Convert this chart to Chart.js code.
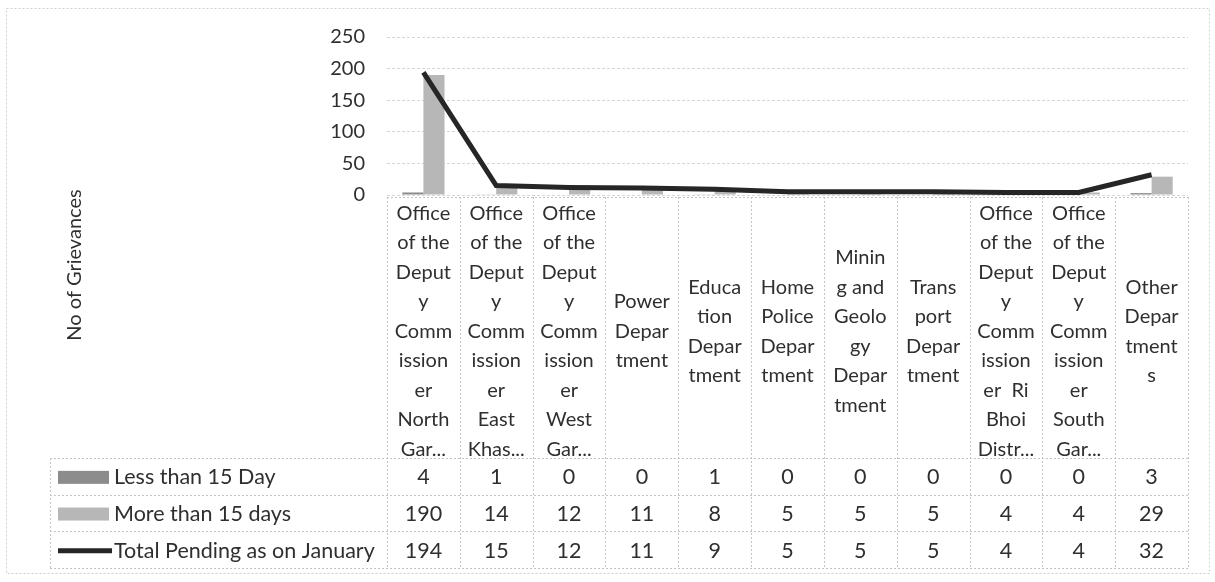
<!doctype html>
<html lang="en">
  <head>
    <meta charset="utf-8">
    <title>No of Grievances</title>
    <style>
      * { margin: 0; padding: 0; }
      body { background: #fff; }
      #myChart { display: block; }
    </style>
  </head>
  <body>
    <canvas id="myChart" width="1215" height="582"></canvas>
    <script src="https://cdn.jsdelivr.net/npm/chart.js/dist/chart.umd.min.js"></script>
    <script>
    // data
    const categoryLines = [
      ['Office', 'of the', 'Deput', 'y', 'Comm', 'ission', 'er', 'North', 'Gar...'],
      ['Office', 'of the', 'Deput', 'y', 'Comm', 'ission', 'er', 'East', 'Khas...'],
      ['Office', 'of the', 'Deput', 'y', 'Comm', 'ission', 'er', 'West', 'Gar...'],
      ['Power', 'Depar', 'tment'],
      ['Educa', 'tion', 'Depar', 'tment'],
      ['Home', 'Police', 'Depar', 'tment'],
      ['Minin', 'g and', 'Geolo', 'gy', 'Depar', 'tment'],
      ['Trans', 'port', 'Depar', 'tment'],
      ['Office', 'of the', 'Deput', 'y', 'Comm', 'ission', 'er  Ri', 'Bhoi', 'Distr...'],
      ['Office', 'of the', 'Deput', 'y', 'Comm', 'ission', 'er', 'South', 'Gar...'],
      ['Other', 'Depar', 'tment', 's']
    ];
    const seriesNames = ['Less than 15 Day', 'More than 15 days', 'Total Pending as on January'];
    const lessThan15 = [4, 1, 0, 0, 1, 0, 0, 0, 0, 0, 3];
    const moreThan15 = [190, 14, 12, 11, 8, 5, 5, 5, 4, 4, 29];
    const totalPending = [194, 15, 12, 11, 9, 5, 5, 5, 4, 4, 32];
    const yTicks = [0, 50, 100, 150, 200, 250];
    const yTitle = 'No of Grievances';

    const FONT = 'Lato';
    const TEXT = '#2f2f2f';
    const colLess = '#8c8c8c';
    const colMore = '#b7b7b7';
    const colLine = '#262626';

    // table under the plot: category labels + data rows
    const tablePlugin = {
      id: 'dataTable',
      afterDraw(chart) {
        const ctx = chart.ctx;
        const area = chart.chartArea;
        const x = chart.scales.x;
        const n = categoryLines.length;
        const colW = area.width / n;
        const headTop = area.bottom + 2;
        const headBottom = 458;
        const rowH = 36.7;
        const tableLeft = 50;
        const rows = [lessThan15, moreThan15, totalPending];
        const tableBottom = headBottom + rowH * rows.length;

        ctx.save();
        ctx.lineWidth = 1;
        ctx.setLineDash([2, 2]);

        // outer frame of the picture
        ctx.strokeStyle = '#d0d0d0';
        ctx.strokeRect(6.5, 8.5, 1203, 565);
        ctx.strokeStyle = '#c4c4c4';

        // header cells
        ctx.beginPath();
        for (let i = 0; i <= n; i++) {
          const px = Math.round(area.left + i * colW) + 0.5;
          ctx.moveTo(px, headTop);
          ctx.lineTo(px, tableBottom);
        }
        ctx.moveTo(area.left, headTop + 0.5);
        ctx.lineTo(area.right, headTop + 0.5);
        // row lines
        for (let r = 0; r <= rows.length; r++) {
          const py = Math.round(headBottom + r * rowH) + 0.5;
          ctx.moveTo(tableLeft, py);
          ctx.lineTo(area.right, py);
        }
        ctx.moveTo(tableLeft + 0.5, headBottom);
        ctx.lineTo(tableLeft + 0.5, tableBottom);
        ctx.stroke();
        ctx.setLineDash([]);

        // category labels
        ctx.fillStyle = TEXT;
        ctx.textAlign = 'center';
        ctx.textBaseline = 'middle';
        ctx.font = '20px ' + FONT;
        const lh = 29.5;
        const midY = (headTop + headBottom) / 2 + 4;
        categoryLines.forEach((lines, i) => {
          const cx = x.getPixelForValue(i);
          const y0 = midY - (lines.length - 1) * lh / 2;
          lines.forEach((t, k) => ctx.fillText(t, cx, y0 + k * lh));
        });

        // data rows
        ctx.font = '21.5px ' + FONT;
        rows.forEach((vals, r) => {
          const cy = headBottom + r * rowH + rowH / 2 + 1;
          vals.forEach((v, i) => ctx.fillText(String(v), x.getPixelForValue(i), cy));
        });

        // legend keys in the first column
        ctx.textAlign = 'left';
        rows.forEach((vals, r) => {
          const cy = headBottom + r * rowH + rowH / 2 + 1;
          if (r < 2) {
            ctx.fillStyle = r === 0 ? colLess : colMore;
            ctx.fillRect(58, cy - 6.5, 51, 13);
          } else {
            ctx.strokeStyle = colLine;
            ctx.lineWidth = 5;
            ctx.beginPath();
            ctx.moveTo(58, cy);
            ctx.lineTo(112, cy);
            ctx.stroke();
          }
          ctx.fillStyle = TEXT;
          ctx.fillText(seriesNames[r], 114, cy);
        });

        // y axis title
        ctx.save();
        ctx.translate(75, 265);
        ctx.rotate(-Math.PI / 2);
        ctx.textAlign = 'center';
        ctx.font = '20px ' + FONT;
        ctx.fillStyle = TEXT;
        ctx.fillText(yTitle, 0, 0);
        ctx.restore();

        ctx.restore();
      }
    };

    const data = {
      labels: categoryLines.map(l => l.join('')),
      datasets: [
        {
          type: 'line',
          label: seriesNames[2],
          data: totalPending,
          borderColor: colLine,
          borderWidth: 5,
          pointRadius: 0,
          tension: 0,
          order: 0
        },
        {
          label: seriesNames[0],
          data: lessThan15,
          backgroundColor: colLess,
          categoryPercentage: 0.58,
          barPercentage: 1,
          order: 1
        },
        {
          label: seriesNames[1],
          data: moreThan15,
          backgroundColor: colMore,
          categoryPercentage: 0.58,
          barPercentage: 1,
          order: 1
        }
      ]
    };

    const config = {
      type: 'bar',
      data,
      plugins: [tablePlugin],
      options: {
        responsive: false,
        animation: false,
        layout: {
          padding: { left: 0, right: 27, top: 37, bottom: 387 }
        },
        plugins: {
          legend: { display: false },
          tooltip: { enabled: false }
        },
        scales: {
          x: { display: false },
          y: {
            min: 0,
            max: 250,
            afterFit: (s) => { s.width = 387; },
            afterBuildTicks: (s) => { s.ticks = yTicks.map(v => ({ value: v })); },
            ticks: {
              padding: 22,
              color: TEXT,
              font: { family: FONT, size: 20 }
            },
            grid: { color: '#d6d6d6', drawTicks: false },
            border: { display: false, dash: [3, 2] }
          }
        }
      }
    };

    const myChart = new Chart(document.getElementById('myChart'), config);
    </script>
  </body>
</html>
